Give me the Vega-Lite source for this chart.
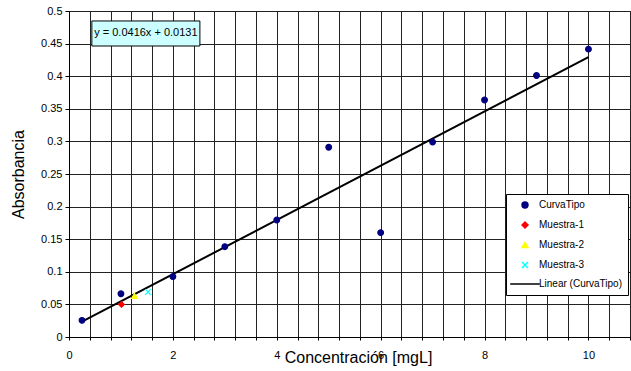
{
  "$schema": "https://vega.github.io/schema/vega-lite/v6.json",
  "width": 561,
  "height": 326,
  "autosize": "none",
  "padding": {"left": 69, "top": 11, "right": 1, "bottom": 34},
  "background": "white",
  "title": {"text": "ra:", "anchor": "start", "frame": "group", "dx": -71, "offset": 7, "baseline": "alphabetic", "fontSize": 16, "fontWeight": "bold", "font": "Liberation Sans", "color": "black"},
  "config": {
    "font": "Liberation Sans",
    "view": {"stroke": "#555"},
    "axis": {"grid": true, "gridColor": "#222", "gridOpacity": 1, "labelOverlap": false, "labelFlush": false, "labelColor": "black", "tickColor": "black", "domainColor": "black", "titleColor": "black", "titleFontWeight": "normal", "titleFontSize": 16, "labelFontSize": 11},
    "legend": {"orient": "none", "legendX": 437, "legendY": 183, "title": null, "fillColor": "white", "strokeColor": "black", "padding": 6, "labelFontSize": 10, "labelColor": "black", "symbolSize": 35, "symbolStrokeWidth": 1.5, "rowPadding": 8, "labelOffset": 9, "symbolOffset": 8}
  },
  "data": {
    "values": [
      {"series": "CurvaTipo", "x": 0.25, "y": 0.0255},
      {"series": "CurvaTipo", "x": 1, "y": 0.0664},
      {"series": "CurvaTipo", "x": 2, "y": 0.0925},
      {"series": "CurvaTipo", "x": 3, "y": 0.1385},
      {"series": "CurvaTipo", "x": 4, "y": 0.1795},
      {"series": "CurvaTipo", "x": 5, "y": 0.291},
      {"series": "CurvaTipo", "x": 6, "y": 0.16},
      {"series": "CurvaTipo", "x": 7, "y": 0.299},
      {"series": "CurvaTipo", "x": 8, "y": 0.3635},
      {"series": "CurvaTipo", "x": 9, "y": 0.401},
      {"series": "CurvaTipo", "x": 10, "y": 0.4415},
      {"series": "Muestra-1", "x": 1.01, "y": 0.05},
      {"series": "Muestra-2", "x": 1.26, "y": 0.063},
      {"series": "Muestra-3", "x": 1.52, "y": 0.069},
      {"series": "Linear (CurvaTipo)", "x": 0.25, "y": 0.0235},
      {"series": "Linear (CurvaTipo)", "x": 10, "y": 0.4291}
    ]
  },
  "encoding": {
    "x": {
      "field": "x", "type": "quantitative",
      "scale": {"domain": [0, 10.8], "nice": false, "zero": false},
      "axis": {
        "title": "Concentración [mgL]", "titleY": 12, "titleX": 289, "titleBaseline": "top",
        "values": [0, 0.4, 0.8, 1.2, 1.6, 2, 2.4, 2.8, 3.2, 3.6, 4, 4.4, 4.8, 5.2, 5.6, 6, 6.4, 6.8, 7.2, 7.6, 8, 8.4, 8.8, 9.2, 9.6, 10, 10.4, 10.8],
        "labelExpr": "abs(datum.value/2 - round(datum.value/2)) < 0.001 ? format(datum.value, '~g') : ''",
        "labelPadding": 9, "tickSize": 3, "grid": true
      }
    },
    "y": {
      "field": "y", "type": "quantitative",
      "scale": {"domain": [0, 0.5], "nice": false},
      "axis": {
        "title": "Absorbancia", "titlePadding": 14,
        "values": [0, 0.05, 0.1, 0.15, 0.2, 0.25, 0.3, 0.35, 0.4, 0.45, 0.5],
        "format": "~g", "labelPadding": 3, "tickSize": 4, "grid": true
      }
    }
  },
  "layer": [
    {
      "transform": [{"filter": "datum.series === 'Linear (CurvaTipo)'"}],
      "mark": {"type": "line", "strokeWidth": 2},
      "encoding": {
        "stroke": {
          "field": "series", "type": "nominal",
          "scale": {"domain": ["CurvaTipo", "Muestra-1", "Muestra-2", "Muestra-3", "Linear (CurvaTipo)"], "range": ["#000080", "#FF0000", "#FFFF00", "#00FFFF", "#000000"]}
        }
      }
    },
    {
      "transform": [{"filter": "datum.series !== 'Linear (CurvaTipo)'"}],
      "mark": {"type": "point", "size": 32, "strokeWidth": 1.2, "opacity": 1},
      "encoding": {
        "fill": {
          "field": "series", "type": "nominal",
          "scale": {"domain": ["CurvaTipo", "Muestra-1", "Muestra-2", "Muestra-3", "Linear (CurvaTipo)"], "range": ["#000080", "#FF0000", "#FFFF00", "#00FFFF", "#000000"]}
        },
        "stroke": {"field": "series", "type": "nominal"},
        "shape": {
          "field": "series", "type": "nominal",
          "scale": {"domain": ["CurvaTipo", "Muestra-1", "Muestra-2", "Muestra-3", "Linear (CurvaTipo)"], "range": ["circle", "diamond", "triangle-up", "M-1,-1L1,1M-1,1L1,-1", "M-5,0H5"]}
        }
      }
    },
    {
      "data": {"values": [{"x": 0.44, "x2": 2.52, "y": 0.4847, "y2": 0.4463}]},
      "mark": {"type": "rect", "fill": "#CCFFFF", "stroke": "black", "strokeWidth": 1},
      "encoding": {
        "x2": {"field": "x2"},
        "y2": {"field": "y2"}
      }
    },
    {
      "data": {"values": [{"x": 1.48, "y": 0.4655, "label": "y = 0.0416x + 0.0131"}]},
      "mark": {"type": "text", "fontSize": 11, "fontWeight": "normal", "font": "Liberation Sans", "color": "black", "align": "center", "baseline": "middle"},
      "encoding": {
        "text": {"field": "label", "type": "nominal"}
      }
    }
  ]
}
